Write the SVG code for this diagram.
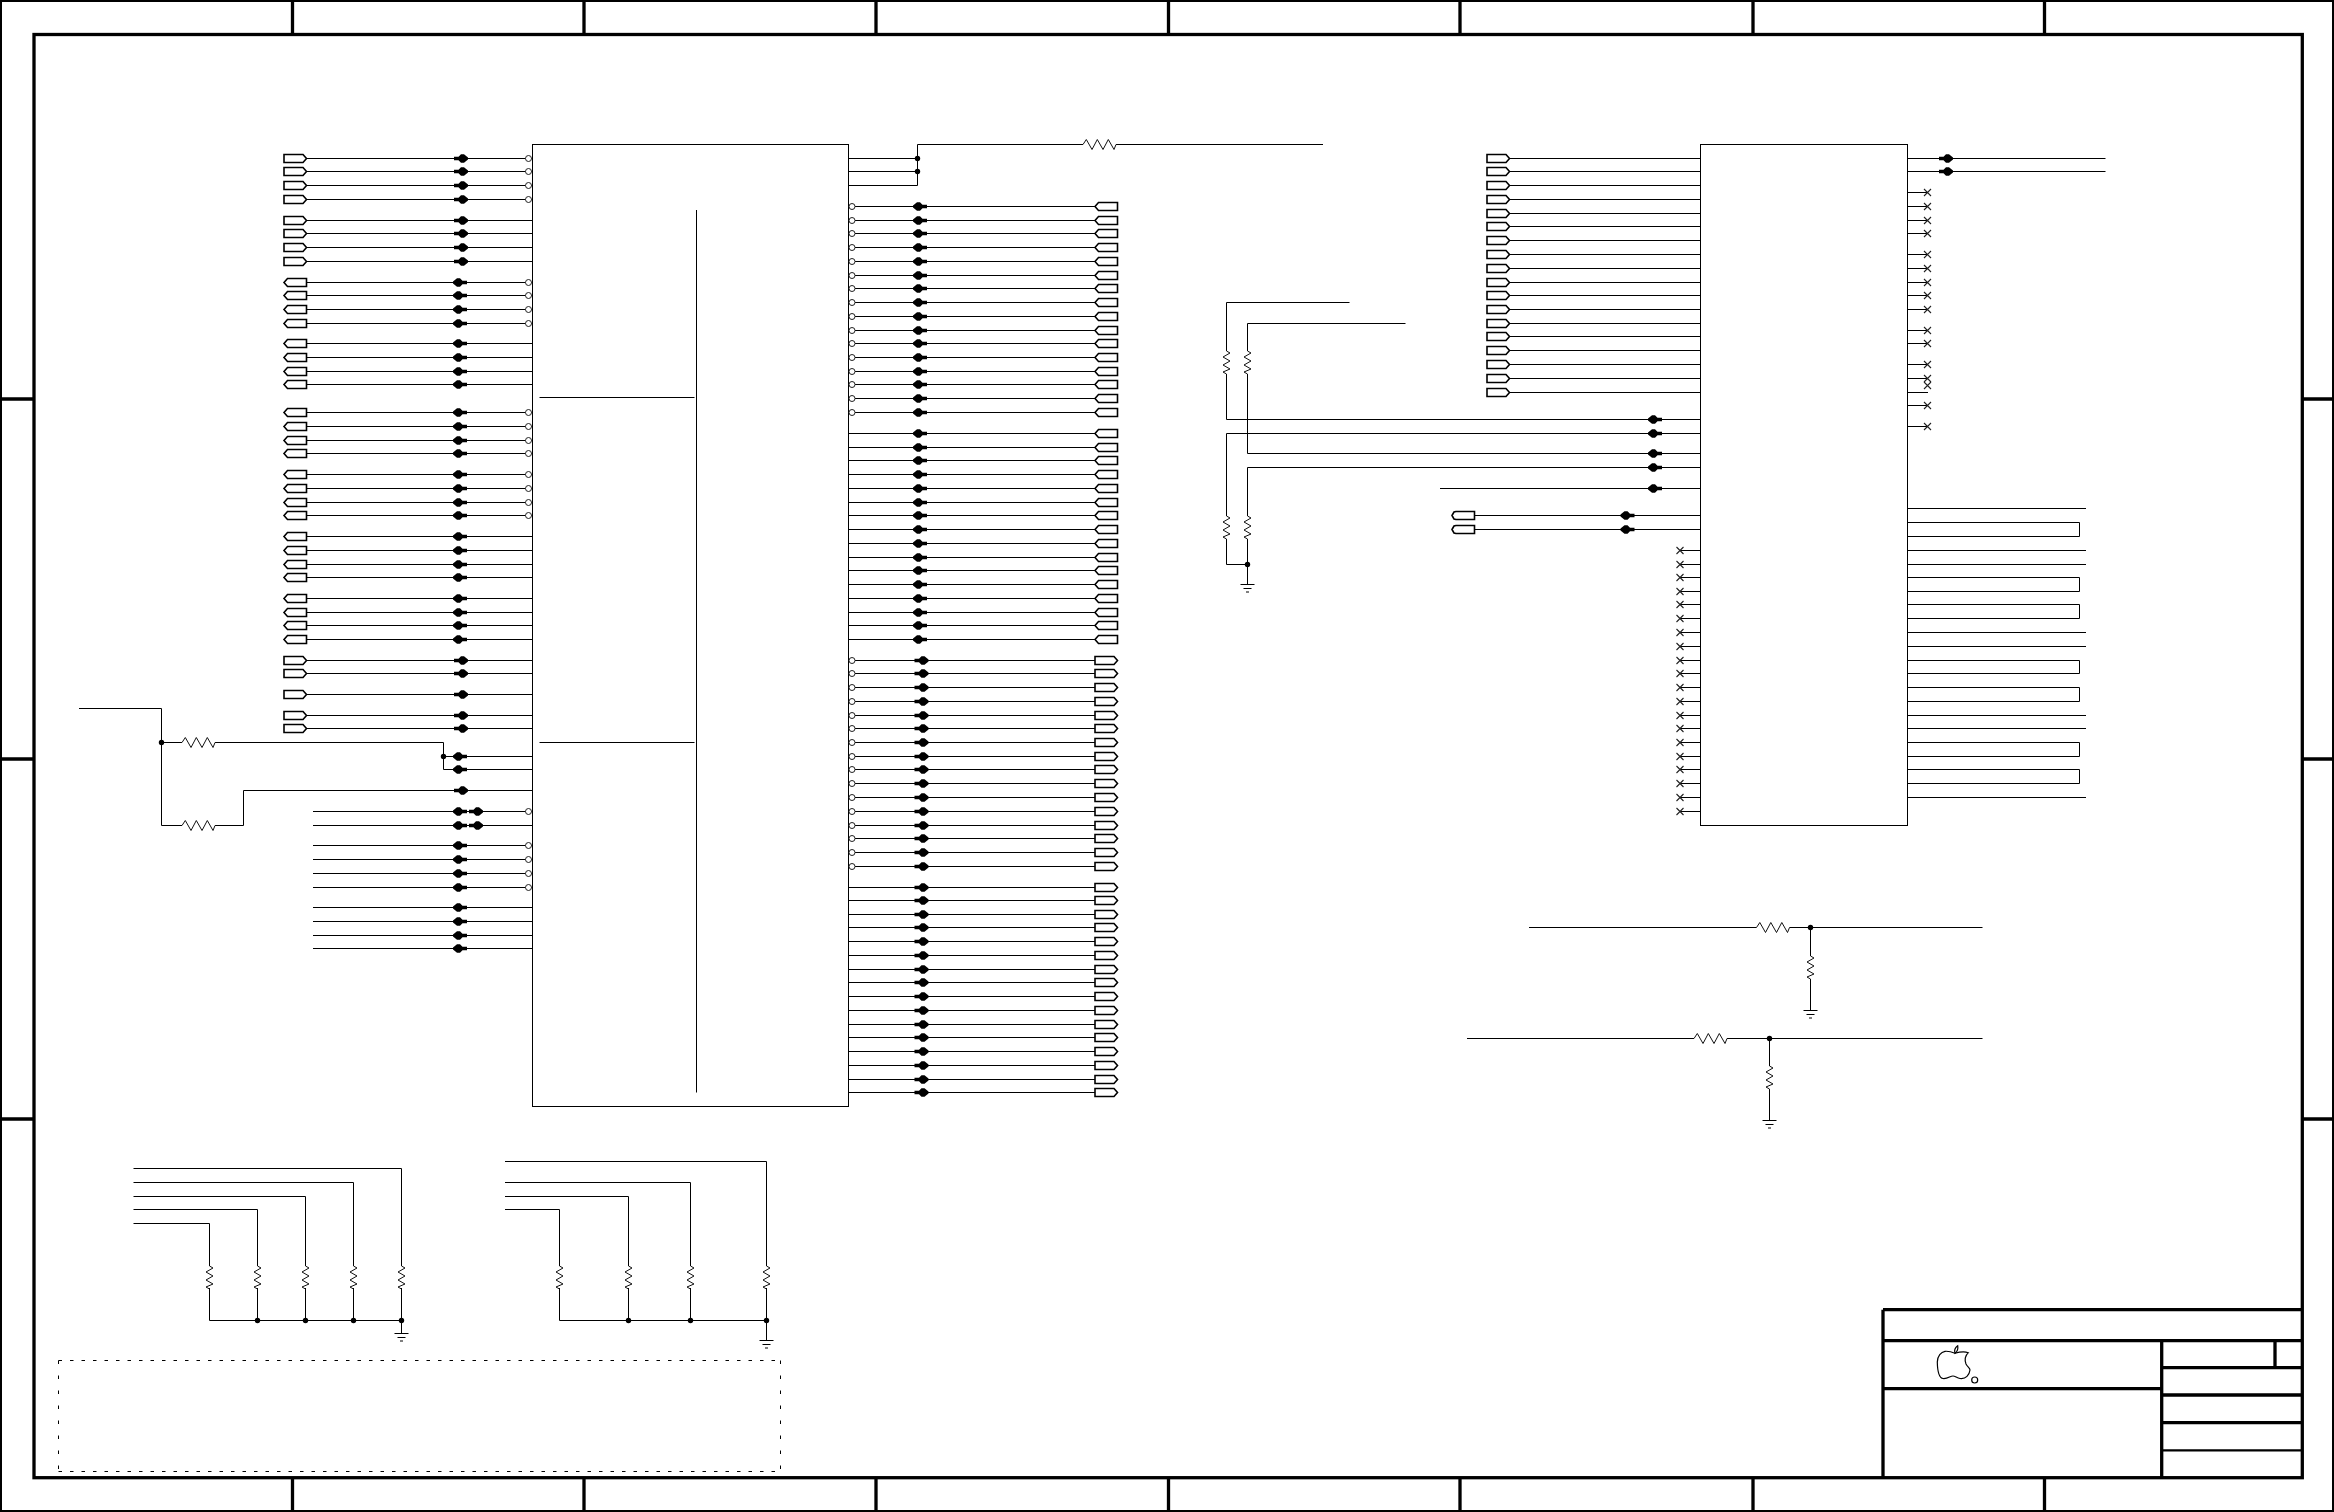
<svg xmlns="http://www.w3.org/2000/svg" xmlns:xlink="http://www.w3.org/1999/xlink" width="2334" height="1512" viewBox="0 0 2334 1512">
<style>
.w{fill:none;stroke:#000;stroke-width:1}
.f{fill:none;stroke:#000;stroke-width:3.3}
.t{fill:#fff;stroke:#000;stroke-width:1.6}
.r{fill:none;stroke:#111;stroke-width:1}
.x{fill:none;stroke:#222;stroke-width:1.1}
.b{fill:#fff;stroke:#222;stroke-width:1}
.d{fill:#000}
</style>
<defs>
<polygon id="ar" class="d" points="-7,-1.7 -2.5,-1.7 0,-4.2 3,-4.2 7,-1 7,1 3,4.2 0,4.2 -2.5,1.7 -7,1.7"/>
<polygon id="al" class="d" points="7,-1.7 2.5,-1.7 0,-4.2 -3,-4.2 -7,-1 -7,1 -3,4.2 0,4.2 2.5,1.7 7,1.7"/>
<polygon id="tr" class="t" points="0,-4 19,-4 22.5,0 19,4 0,4"/>
<polygon id="tl" class="t" points="0,0 3.5,-4 22.5,-4 22.5,4 3.5,4"/>
<polygon id="ts" class="t" points="0,0 2,-3.5 4,-4 22.5,-4 22.5,4 4,4 2,3.5"/>
<circle id="bu" class="b" r="3"/>
<circle id="dot" class="d" r="2.7"/>
<path id="x" class="x" d="M-3.5-3.5L3.5 3.5M-3.5 3.5L3.5-3.5"/>
<path id="rh" class="r" d="M0 0L3.3-5L9 5L14.3-5L20 5L25.3-5L31 5L33 0"/>
<path id="rv" class="r" d="M0 0L3.5 2L-3.5 6L3.5 10L-3.5 14L3.5 18L-3.5 21L0 23"/>
<path id="gnd" class="w" d="M-7 0H7M-4 4H4M-1.5 7.5H1.5"/>
</defs>

<g id="frame">
<rect x="1" y="1" width="2332" height="1510" fill="none" stroke="#000" stroke-width="2"/>
<rect class="f" x="34" y="34.5" width="2268.3" height="1443.2"/>
<path class="f" d="M292.5 0V34M584 0V34M876 0V34M1168.5 0V34M1460 0V34M1753 0V34M2044.5 0V34M292.5 1478V1512M584 1478V1512M876 1478V1512M1168.5 1478V1512M1460 1478V1512M1753 1478V1512M2044.5 1478V1512M0 399H34M0 759H34M0 1119H34M2302 399H2334M2302 759H2334M2302 1119H2334"/>
</g>

<g id="title-block">
<path class="f" d="M1883 1309.7H2302M1883 1309.7V1477M1883 1340.7H2302M1883 1388.7H2162M2161.7 1340.7V1477M2275 1340.7V1367.7M2162 1367.7H2302M2162 1395H2302M2162 1422.7H2302"/>
<path d="M2162 1450.3H2302" fill="none" stroke="#000" stroke-width="2.2"/>
<g id="logo" fill="none" stroke="#000" stroke-width="1.2">
<path d="M1955 1353.3C1961 1351.5 1965 1351.5 1968.3 1352.7C1965 1356 1964.5 1360 1966 1364C1967.5 1367 1970 1368 1970 1370C1969.3 1375 1966 1379.3 1960 1378.5C1957 1378 1955 1376 1953 1376C1950 1376 1948 1379 1943 1378.5C1939.5 1378 1937.5 1372 1937.3 1362C1937.5 1356 1941 1352 1945 1351.3C1949 1351 1952 1352 1955 1353.3Z"/>
<path d="M1955 1353.3C1953.5 1349 1956 1347 1957.7 1345.7C1958.3 1349 1957.5 1351.5 1955 1353.3Z"/>
<circle cx="1974.7" cy="1380" r="3"/>
</g>
</g>

<g id="connectors">
<path class="w" d="M307 158.5H532M307 171.5H532M307 185.5H532M307 199.5H532M307 220.5H532M307 233.5H532M307 247.5H532M307 261.5H532M307 282.5H532M307 295.5H532M307 309.5H532M307 323.5H532M307 343.5H532M307 357.5H532M307 371.5H532M307 384.5H532M307 412.5H532M307 426.5H532M307 440.5H532M307 453.5H532M307 474.5H532M307 488.5H532M307 502.5H532M307 515.5H532M307 536.5H532M307 550.5H532M307 564.5H532M307 577.5H532M307 598.5H532M307 612.5H532M307 625.5H532M307 639.5H532M307 660.5H532M307 673.5H532M307 694.5H532M307 715.5H532M307 728.5H532"/>
<path class="w" d="M79 708.5H161.5V825.5H182M161.5 742.5H182M215 742.5H443.5V769.5H532M443.5 756.5H532M215 825.5H243.5V790.5H532"/>
<path class="w" d="M313 811.5H532M313 825.5H532M313 845.5H532M313 859.5H532M313 873.5H532M313 887.5H532M313 907.5H532M313 921.5H532M313 935.5H532M313 948.5H532"/>
<path class="w" d="M848.5 158.5H917.5M848.5 171.5H917.5M848.5 185.5H917.5V144.5H1083M1116 144.5H1323"/>
<path class="w" d="M848.5 206.5H1095M848.5 220.5H1095M848.5 233.5H1095M848.5 247.5H1095M848.5 261.5H1095M848.5 275.5H1095M848.5 288.5H1095M848.5 302.5H1095M848.5 316.5H1095M848.5 330.5H1095M848.5 343.5H1095M848.5 357.5H1095M848.5 371.5H1095M848.5 384.5H1095M848.5 398.5H1095M848.5 412.5H1095"/>
<path class="w" d="M848.5 433.5H1095M848.5 447.5H1095M848.5 460.5H1095M848.5 474.5H1095M848.5 488.5H1095M848.5 502.5H1095M848.5 515.5H1095M848.5 529.5H1095M848.5 543.5H1095M848.5 557.5H1095M848.5 570.5H1095M848.5 584.5H1095M848.5 598.5H1095M848.5 612.5H1095M848.5 625.5H1095M848.5 639.5H1095"/>
<path class="w" d="M848.5 660.5H1095M848.5 673.5H1095M848.5 687.5H1095M848.5 701.5H1095M848.5 715.5H1095M848.5 728.5H1095M848.5 742.5H1095M848.5 756.5H1095M848.5 769.5H1095M848.5 783.5H1095M848.5 797.5H1095M848.5 811.5H1095M848.5 825.5H1095M848.5 838.5H1095M848.5 852.5H1095M848.5 866.5H1095"/>
<path class="w" d="M848.5 887.5H1095M848.5 900.5H1095M848.5 914.5H1095M848.5 927.5H1095M848.5 941.5H1095M848.5 955.5H1095M848.5 969.5H1095M848.5 982.5H1095M848.5 996.5H1095M848.5 1010.5H1095M848.5 1024.5H1095M848.5 1037.5H1095M848.5 1051.5H1095M848.5 1065.5H1095M848.5 1079.5H1095M848.5 1092.5H1095"/>
<path class="w" d="M1509 158.5H1700M1509 171.5H1700M1509 185.5H1700M1509 199.5H1700M1509 213.5H1700M1509 226.5H1700M1509 240.5H1700M1509 254.5H1700M1509 268.5H1700M1509 282.5H1700M1509 295.5H1700M1509 309.5H1700M1509 323.5H1700M1509 336.5H1700M1509 350.5H1700M1509 364.5H1700M1509 378.5H1700M1509 392.5H1700"/>
<path class="w" d="M1349.5 302.5H1226.5V351M1226.5 374V419.5H1700M1405.5 323.5H1247.5V351M1247.5 374V453.5H1700M1700 433.5H1226.5V516M1226.5 539V564.5H1247.5M1700 467.5H1247.5V516M1247.5 539V584M1440 488.5H1700M1474.5 515.5H1700M1474.5 529.5H1700"/>
<path class="w" d="M1680 550.5H1700M1680 564.5H1700M1680 577.5H1700M1680 591.5H1700M1680 604.5H1700M1680 618.5H1700M1680 632.5H1700M1680 646.5H1700M1680 660.5H1700M1680 673.5H1700M1680 687.5H1700M1680 701.5H1700M1680 715.5H1700M1680 728.5H1700M1680 742.5H1700M1680 756.5H1700M1680 769.5H1700M1680 783.5H1700M1680 797.5H1700M1680 811.5H1700"/>
<path class="w" d="M1907.5 158.5H2105.5M1907.5 171.5H2105.5M1907.5 192.5H1928M1907.5 206.5H1928M1907.5 220.5H1928M1907.5 233.5H1928M1907.5 254.5H1928M1907.5 268.5H1928M1907.5 282.5H1928M1907.5 295.5H1928M1907.5 309.5H1928M1907.5 330.5H1928M1907.5 343.5H1928M1907.5 364.5H1928M1907.5 378.5H1928M1907.5 392.5H1928M1907.5 405.5H1928M1907.5 426.5H1928"/>
<path class="w" d="M1907.5 508.5H2086M1907.5 522.5H2079.5V536.5H1907.5M1907.5 550.5H2086M1907.5 564.5H2086M1907.5 577.5H2079.5V591.5H1907.5M1907.5 604.5H2079.5V618.5H1907.5M1907.5 632.5H2086M1907.5 646.5H2086M1907.5 660.5H2079.5V673.5H1907.5M1907.5 687.5H2079.5V701.5H1907.5M1907.5 715.5H2086M1907.5 728.5H2086M1907.5 742.5H2079.5V756.5H1907.5M1907.5 769.5H2079.5V783.5H1907.5M1907.5 797.5H2086"/>
<path class="w" d="M1529 927.5H1756.5M1789.5 927.5H1982.5M1810.5 927.5V956M1810.5 979V1010M1467 1038.5H1694M1727 1038.5H1982.5M1769.5 1038.5V1066M1769.5 1089V1120"/>
<path class="w" d="M133.5 1168.5H401.5V1266M401.5 1288V1320.5M133.5 1182.5H353.5V1266M353.5 1288V1320.5M133.5 1196.5H305.5V1266M305.5 1288V1320.5M133.5 1209.5H257.5V1266M257.5 1288V1320.5M133.5 1223.5H209.5V1266M209.5 1288V1320.5H401.5V1333"/>
<path class="w" d="M505 1161.5H766.5V1266M766.5 1288V1320.5M505 1182.5H690.5V1266M690.5 1288V1320.5M505 1196.5H628.5V1266M628.5 1288V1320.5M505 1209.5H559.5V1266M559.5 1288V1320.5H766.5V1340"/>
</g>

<g id="chip1">
<rect class="w" x="532.5" y="144.5" width="316" height="962" fill="none"/>
<path class="w" d="M696.5 210V1092.5M539.5 397.5H694.5M539.5 742.5H694.5"/>
</g>
<g id="chip2">
<rect class="w" x="1700.5" y="144.5" width="207" height="681" fill="none"/>
</g>

<g id="left-tags">
<use href="#tr" x="284" y="158.5"/><use href="#tr" x="284" y="171.5"/><use href="#tr" x="284" y="185.5"/><use href="#tr" x="284" y="199.5"/><use href="#tr" x="284" y="220.5"/><use href="#tr" x="284" y="233.5"/><use href="#tr" x="284" y="247.5"/><use href="#tr" x="284" y="261.5"/>
<use href="#tl" x="284" y="282.5"/><use href="#tl" x="284" y="295.5"/><use href="#tl" x="284" y="309.5"/><use href="#tl" x="284" y="323.5"/><use href="#tl" x="284" y="343.5"/><use href="#tl" x="284" y="357.5"/><use href="#tl" x="284" y="371.5"/><use href="#tl" x="284" y="384.5"/>
<use href="#tl" x="284" y="412.5"/><use href="#tl" x="284" y="426.5"/><use href="#tl" x="284" y="440.5"/><use href="#tl" x="284" y="453.5"/><use href="#tl" x="284" y="474.5"/><use href="#tl" x="284" y="488.5"/><use href="#tl" x="284" y="502.5"/><use href="#tl" x="284" y="515.5"/>
<use href="#tl" x="284" y="536.5"/><use href="#tl" x="284" y="550.5"/><use href="#tl" x="284" y="564.5"/><use href="#tl" x="284" y="577.5"/><use href="#tl" x="284" y="598.5"/><use href="#tl" x="284" y="612.5"/><use href="#tl" x="284" y="625.5"/><use href="#tl" x="284" y="639.5"/>
<use href="#tr" x="284" y="660.5"/><use href="#tr" x="284" y="673.5"/><use href="#tr" x="284" y="694.5"/><use href="#tr" x="284" y="715.5"/><use href="#tr" x="284" y="728.5"/>
</g>
<g id="left-arrows">
<use href="#ar" x="461" y="158.5"/><use href="#ar" x="461" y="171.5"/><use href="#ar" x="461" y="185.5"/><use href="#ar" x="461" y="199.5"/><use href="#ar" x="461" y="220.5"/><use href="#ar" x="461" y="233.5"/><use href="#ar" x="461" y="247.5"/><use href="#ar" x="461" y="261.5"/>
<use href="#al" x="460" y="282.5"/><use href="#al" x="460" y="295.5"/><use href="#al" x="460" y="309.5"/><use href="#al" x="460" y="323.5"/><use href="#al" x="460" y="343.5"/><use href="#al" x="460" y="357.5"/><use href="#al" x="460" y="371.5"/><use href="#al" x="460" y="384.5"/>
<use href="#al" x="460" y="412.5"/><use href="#al" x="460" y="426.5"/><use href="#al" x="460" y="440.5"/><use href="#al" x="460" y="453.5"/><use href="#al" x="460" y="474.5"/><use href="#al" x="460" y="488.5"/><use href="#al" x="460" y="502.5"/><use href="#al" x="460" y="515.5"/>
<use href="#al" x="460" y="536.5"/><use href="#al" x="460" y="550.5"/><use href="#al" x="460" y="564.5"/><use href="#al" x="460" y="577.5"/><use href="#al" x="460" y="598.5"/><use href="#al" x="460" y="612.5"/><use href="#al" x="460" y="625.5"/><use href="#al" x="460" y="639.5"/>
<use href="#ar" x="461" y="660.5"/><use href="#ar" x="461" y="673.5"/><use href="#ar" x="461" y="694.5"/><use href="#ar" x="461" y="715.5"/><use href="#ar" x="461" y="728.5"/>
<use href="#al" x="460" y="756.5"/><use href="#al" x="460" y="769.5"/><use href="#ar" x="461" y="790.5"/>
<use href="#al" x="460" y="811.5"/><use href="#ar" x="476" y="811.5"/><use href="#al" x="460" y="825.5"/><use href="#ar" x="476" y="825.5"/>
<use href="#al" x="460" y="845.5"/><use href="#al" x="460" y="859.5"/><use href="#al" x="460" y="873.5"/><use href="#al" x="460" y="887.5"/><use href="#al" x="460" y="907.5"/><use href="#al" x="460" y="921.5"/><use href="#al" x="460" y="935.5"/><use href="#al" x="460" y="948.5"/>
</g>
<g id="left-bubbles">
<use href="#bu" x="528.5" y="158.5"/><use href="#bu" x="528.5" y="171.5"/><use href="#bu" x="528.5" y="185.5"/><use href="#bu" x="528.5" y="199.5"/>
<use href="#bu" x="528.5" y="282.5"/><use href="#bu" x="528.5" y="295.5"/><use href="#bu" x="528.5" y="309.5"/><use href="#bu" x="528.5" y="323.5"/>
<use href="#bu" x="528.5" y="412.5"/><use href="#bu" x="528.5" y="426.5"/><use href="#bu" x="528.5" y="440.5"/><use href="#bu" x="528.5" y="453.5"/>
<use href="#bu" x="528.5" y="474.5"/><use href="#bu" x="528.5" y="488.5"/><use href="#bu" x="528.5" y="502.5"/><use href="#bu" x="528.5" y="515.5"/>
<use href="#bu" x="528.5" y="811.5"/><use href="#bu" x="528.5" y="845.5"/><use href="#bu" x="528.5" y="859.5"/><use href="#bu" x="528.5" y="873.5"/><use href="#bu" x="528.5" y="887.5"/>
</g>

<g id="right-tags">
<use href="#tl" x="1095" y="206.5"/><use href="#tl" x="1095" y="220.5"/><use href="#tl" x="1095" y="233.5"/><use href="#tl" x="1095" y="247.5"/><use href="#tl" x="1095" y="261.5"/><use href="#tl" x="1095" y="275.5"/><use href="#tl" x="1095" y="288.5"/><use href="#tl" x="1095" y="302.5"/><use href="#tl" x="1095" y="316.5"/><use href="#tl" x="1095" y="330.5"/><use href="#tl" x="1095" y="343.5"/><use href="#tl" x="1095" y="357.5"/><use href="#tl" x="1095" y="371.5"/><use href="#tl" x="1095" y="384.5"/><use href="#tl" x="1095" y="398.5"/><use href="#tl" x="1095" y="412.5"/>
<use href="#tl" x="1095" y="433.5"/><use href="#tl" x="1095" y="447.5"/><use href="#tl" x="1095" y="460.5"/><use href="#tl" x="1095" y="474.5"/><use href="#tl" x="1095" y="488.5"/><use href="#tl" x="1095" y="502.5"/><use href="#tl" x="1095" y="515.5"/><use href="#tl" x="1095" y="529.5"/><use href="#tl" x="1095" y="543.5"/><use href="#tl" x="1095" y="557.5"/><use href="#tl" x="1095" y="570.5"/><use href="#tl" x="1095" y="584.5"/><use href="#tl" x="1095" y="598.5"/><use href="#tl" x="1095" y="612.5"/><use href="#tl" x="1095" y="625.5"/><use href="#tl" x="1095" y="639.5"/>
<use href="#tr" x="1095" y="660.5"/><use href="#tr" x="1095" y="673.5"/><use href="#tr" x="1095" y="687.5"/><use href="#tr" x="1095" y="701.5"/><use href="#tr" x="1095" y="715.5"/><use href="#tr" x="1095" y="728.5"/><use href="#tr" x="1095" y="742.5"/><use href="#tr" x="1095" y="756.5"/><use href="#tr" x="1095" y="769.5"/><use href="#tr" x="1095" y="783.5"/><use href="#tr" x="1095" y="797.5"/><use href="#tr" x="1095" y="811.5"/><use href="#tr" x="1095" y="825.5"/><use href="#tr" x="1095" y="838.5"/><use href="#tr" x="1095" y="852.5"/><use href="#tr" x="1095" y="866.5"/>
<use href="#tr" x="1095" y="887.5"/><use href="#tr" x="1095" y="900.5"/><use href="#tr" x="1095" y="914.5"/><use href="#tr" x="1095" y="927.5"/><use href="#tr" x="1095" y="941.5"/><use href="#tr" x="1095" y="955.5"/><use href="#tr" x="1095" y="969.5"/><use href="#tr" x="1095" y="982.5"/><use href="#tr" x="1095" y="996.5"/><use href="#tr" x="1095" y="1010.5"/><use href="#tr" x="1095" y="1024.5"/><use href="#tr" x="1095" y="1037.5"/><use href="#tr" x="1095" y="1051.5"/><use href="#tr" x="1095" y="1065.5"/><use href="#tr" x="1095" y="1079.5"/><use href="#tr" x="1095" y="1092.5"/>
</g>
<g id="right-arrows">
<use href="#al" x="920" y="206.5"/><use href="#al" x="920" y="220.5"/><use href="#al" x="920" y="233.5"/><use href="#al" x="920" y="247.5"/><use href="#al" x="920" y="261.5"/><use href="#al" x="920" y="275.5"/><use href="#al" x="920" y="288.5"/><use href="#al" x="920" y="302.5"/><use href="#al" x="920" y="316.5"/><use href="#al" x="920" y="330.5"/><use href="#al" x="920" y="343.5"/><use href="#al" x="920" y="357.5"/><use href="#al" x="920" y="371.5"/><use href="#al" x="920" y="384.5"/><use href="#al" x="920" y="398.5"/><use href="#al" x="920" y="412.5"/>
<use href="#al" x="920" y="433.5"/><use href="#al" x="920" y="447.5"/><use href="#al" x="920" y="460.5"/><use href="#al" x="920" y="474.5"/><use href="#al" x="920" y="488.5"/><use href="#al" x="920" y="502.5"/><use href="#al" x="920" y="515.5"/><use href="#al" x="920" y="529.5"/><use href="#al" x="920" y="543.5"/><use href="#al" x="920" y="557.5"/><use href="#al" x="920" y="570.5"/><use href="#al" x="920" y="584.5"/><use href="#al" x="920" y="598.5"/><use href="#al" x="920" y="612.5"/><use href="#al" x="920" y="625.5"/><use href="#al" x="920" y="639.5"/>
<use href="#ar" x="921.5" y="660.5"/><use href="#ar" x="921.5" y="673.5"/><use href="#ar" x="921.5" y="687.5"/><use href="#ar" x="921.5" y="701.5"/><use href="#ar" x="921.5" y="715.5"/><use href="#ar" x="921.5" y="728.5"/><use href="#ar" x="921.5" y="742.5"/><use href="#ar" x="921.5" y="756.5"/><use href="#ar" x="921.5" y="769.5"/><use href="#ar" x="921.5" y="783.5"/><use href="#ar" x="921.5" y="797.5"/><use href="#ar" x="921.5" y="811.5"/><use href="#ar" x="921.5" y="825.5"/><use href="#ar" x="921.5" y="838.5"/><use href="#ar" x="921.5" y="852.5"/><use href="#ar" x="921.5" y="866.5"/>
<use href="#ar" x="921.5" y="887.5"/><use href="#ar" x="921.5" y="900.5"/><use href="#ar" x="921.5" y="914.5"/><use href="#ar" x="921.5" y="927.5"/><use href="#ar" x="921.5" y="941.5"/><use href="#ar" x="921.5" y="955.5"/><use href="#ar" x="921.5" y="969.5"/><use href="#ar" x="921.5" y="982.5"/><use href="#ar" x="921.5" y="996.5"/><use href="#ar" x="921.5" y="1010.5"/><use href="#ar" x="921.5" y="1024.5"/><use href="#ar" x="921.5" y="1037.5"/><use href="#ar" x="921.5" y="1051.5"/><use href="#ar" x="921.5" y="1065.5"/><use href="#ar" x="921.5" y="1079.5"/><use href="#ar" x="921.5" y="1092.5"/>
</g>
<g id="right-bubbles">
<use href="#bu" x="852" y="206.5"/><use href="#bu" x="852" y="220.5"/><use href="#bu" x="852" y="233.5"/><use href="#bu" x="852" y="247.5"/><use href="#bu" x="852" y="261.5"/><use href="#bu" x="852" y="275.5"/><use href="#bu" x="852" y="288.5"/><use href="#bu" x="852" y="302.5"/><use href="#bu" x="852" y="316.5"/><use href="#bu" x="852" y="330.5"/><use href="#bu" x="852" y="343.5"/><use href="#bu" x="852" y="357.5"/><use href="#bu" x="852" y="371.5"/><use href="#bu" x="852" y="384.5"/><use href="#bu" x="852" y="398.5"/><use href="#bu" x="852" y="412.5"/>
<use href="#bu" x="852" y="660.5"/><use href="#bu" x="852" y="673.5"/><use href="#bu" x="852" y="687.5"/><use href="#bu" x="852" y="701.5"/><use href="#bu" x="852" y="715.5"/><use href="#bu" x="852" y="728.5"/><use href="#bu" x="852" y="742.5"/><use href="#bu" x="852" y="756.5"/><use href="#bu" x="852" y="769.5"/><use href="#bu" x="852" y="783.5"/><use href="#bu" x="852" y="797.5"/><use href="#bu" x="852" y="811.5"/><use href="#bu" x="852" y="825.5"/><use href="#bu" x="852" y="838.5"/><use href="#bu" x="852" y="852.5"/><use href="#bu" x="852" y="866.5"/>
</g>

<g id="chip2-tags">
<use href="#tr" x="1487" y="158.5"/><use href="#tr" x="1487" y="171.5"/><use href="#tr" x="1487" y="185.5"/><use href="#tr" x="1487" y="199.5"/><use href="#tr" x="1487" y="213.5"/><use href="#tr" x="1487" y="226.5"/><use href="#tr" x="1487" y="240.5"/><use href="#tr" x="1487" y="254.5"/><use href="#tr" x="1487" y="268.5"/><use href="#tr" x="1487" y="282.5"/><use href="#tr" x="1487" y="295.5"/><use href="#tr" x="1487" y="309.5"/><use href="#tr" x="1487" y="323.5"/><use href="#tr" x="1487" y="336.5"/><use href="#tr" x="1487" y="350.5"/><use href="#tr" x="1487" y="364.5"/><use href="#tr" x="1487" y="378.5"/><use href="#tr" x="1487" y="392.5"/>
<use href="#ts" x="1452" y="515.5"/><use href="#ts" x="1452" y="529.5"/>
</g>
<g id="chip2-arrows">
<use href="#al" x="1655" y="419.5"/><use href="#al" x="1655" y="433.5"/><use href="#al" x="1655" y="453.5"/><use href="#al" x="1655" y="467.5"/><use href="#al" x="1655" y="488.5"/>
<use href="#al" x="1627.5" y="515.5"/><use href="#al" x="1627.5" y="529.5"/>
<use href="#ar" x="1946" y="158.5"/><use href="#ar" x="1946" y="171.5"/>
</g>
<g id="no-connects">
<use href="#x" x="1680" y="550.5"/><use href="#x" x="1680" y="564.5"/><use href="#x" x="1680" y="577.5"/><use href="#x" x="1680" y="591.5"/><use href="#x" x="1680" y="604.5"/><use href="#x" x="1680" y="618.5"/><use href="#x" x="1680" y="632.5"/><use href="#x" x="1680" y="646.5"/><use href="#x" x="1680" y="660.5"/><use href="#x" x="1680" y="673.5"/><use href="#x" x="1680" y="687.5"/><use href="#x" x="1680" y="701.5"/><use href="#x" x="1680" y="715.5"/><use href="#x" x="1680" y="728.5"/><use href="#x" x="1680" y="742.5"/><use href="#x" x="1680" y="756.5"/><use href="#x" x="1680" y="769.5"/><use href="#x" x="1680" y="783.5"/><use href="#x" x="1680" y="797.5"/><use href="#x" x="1680" y="811.5"/>
<use href="#x" x="1927.5" y="192.5"/><use href="#x" x="1927.5" y="206.5"/><use href="#x" x="1927.5" y="220.5"/><use href="#x" x="1927.5" y="233.5"/><use href="#x" x="1927.5" y="254.5"/><use href="#x" x="1927.5" y="268.5"/><use href="#x" x="1927.5" y="282.5"/><use href="#x" x="1927.5" y="295.5"/><use href="#x" x="1927.5" y="309.5"/><use href="#x" x="1927.5" y="330.5"/><use href="#x" x="1927.5" y="343.5"/><use href="#x" x="1927.5" y="364.5"/><use href="#x" x="1927.5" y="378.5"/><use href="#x" x="1927.5" y="385.5"/><use href="#x" x="1927.5" y="405.5"/><use href="#x" x="1927.5" y="426.5"/>
</g>

<g id="resistors">
<use href="#rh" x="182" y="742.5"/><use href="#rh" x="182" y="825.5"/><use href="#rh" x="1083" y="144.5"/><use href="#rh" x="1756.5" y="927.5"/><use href="#rh" x="1694" y="1038.5"/>
<use href="#rv" x="1226.5" y="351"/><use href="#rv" x="1247.5" y="351"/><use href="#rv" x="1226.5" y="516"/><use href="#rv" x="1247.5" y="516"/>
<use href="#rv" x="1810.5" y="956"/><use href="#rv" x="1769.5" y="1066"/>
<use href="#rv" x="209.5" y="1266"/><use href="#rv" x="257.5" y="1266"/><use href="#rv" x="305.5" y="1266"/><use href="#rv" x="353.5" y="1266"/><use href="#rv" x="401.5" y="1266"/>
<use href="#rv" x="559.5" y="1266"/><use href="#rv" x="628.5" y="1266"/><use href="#rv" x="690.5" y="1266"/><use href="#rv" x="766.5" y="1266"/>
</g>
<g id="grounds">
<use href="#gnd" x="1247.5" y="584.5"/><use href="#gnd" x="1810.5" y="1010.5"/><use href="#gnd" x="1769.5" y="1120.5"/><use href="#gnd" x="401.5" y="1333.5"/><use href="#gnd" x="766.5" y="1340.5"/>
</g>
<g id="junctions">
<use href="#dot" x="161.5" y="742.5"/><use href="#dot" x="443.5" y="756.5"/><use href="#dot" x="917.5" y="158.5"/><use href="#dot" x="917.5" y="171.5"/><use href="#dot" x="1247.5" y="564.5"/><use href="#dot" x="1810.5" y="927.5"/><use href="#dot" x="1769.5" y="1038.5"/>
<use href="#dot" x="257.5" y="1320.5"/><use href="#dot" x="305.5" y="1320.5"/><use href="#dot" x="353.5" y="1320.5"/><use href="#dot" x="401.5" y="1320.5"/><use href="#dot" x="628.5" y="1320.5"/><use href="#dot" x="690.5" y="1320.5"/><use href="#dot" x="766.5" y="1320.5"/>
</g>

<g id="note-box" fill="none" stroke="#000" stroke-width="1">
<path stroke-dasharray="3.5 8" d="M58.5 1360.5H780.5M58.5 1471.5H780.5"/>
<path stroke-dasharray="3.5 11.5" d="M58.5 1360.5V1471.5M780.5 1360.5V1471.5"/>
</g>
</svg>
